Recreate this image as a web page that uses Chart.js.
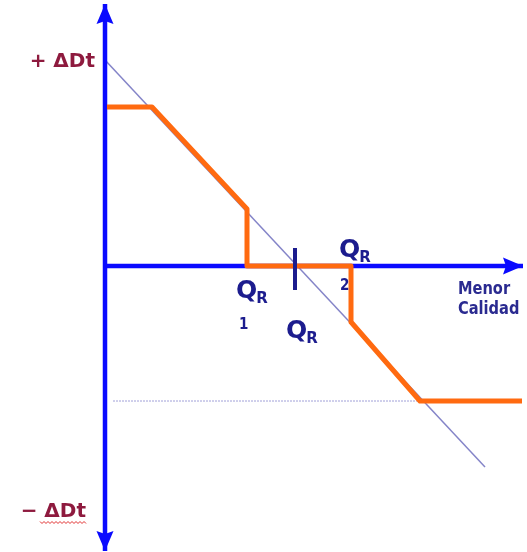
<!DOCTYPE html>
<html>
<head>
<meta charset="utf-8">
<script src="https://cdn.jsdelivr.net/npm/chart.js@4/dist/chart.umd.min.js"></script>
<style>
  body { margin: 0; background: #fff; }
  #graf { display: block; }
</style>
</head>
<body>
<canvas id="graf" width="527" height="552"></canvas>
<script>
// ejes (unidades arbitrarias, origen en el cruce)
const ejeY = [{x: 0, y: -28.5}, {x: 0, y: 26.2}];
const ejeX = [{x: 0, y: 0}, {x: 41.8, y: 0}];

// recta de referencia (linea fina)
const recta = [{x: 0, y: 20.6}, {x: 38.0, y: -20.1}];

// curva naranja
const curvaX = [0.2, 4.7, 14.2, 14.2, 24.6, 24.6, 31.5, 41.7];
const curvaY = [15.9, 15.9, 5.7, 0, 0, -5.6, -13.5, -13.5];

// linea punteada del nivel inferior
const punteada = [{x: 0.8, y: -13.5}, {x: 31.5, y: -13.5}];

// marca vertical en QR
const marca = [{x: 19.0, y: 1.8}, {x: 19.0, y: -2.4}];

// etiquetas del eje vertical
const etiquetasY = ['+ ΔDt', '− ΔDt'];
const valoresY = [20.6, -24.4];

const curva = curvaX.map((v, i) => ({x: v, y: curvaY[i]}));

const azul = '#0a0aff';
const naranja = '#ff6a10';
const marino = '#1c1c8e';
const granate = '#8e1a3e';

// texto estrechado horizontalmente
function texto(c, t, x, y, fuente, escala, alin) {
  c.save();
  c.font = fuente;
  const w = c.measureText(t).width * escala;
  const x0 = alin === 'right' ? x - w : x;
  c.translate(x0, y);
  c.scale(escala, 1);
  c.textAlign = 'left';
  c.fillText(t, 0, 0);
  c.restore();
  return w;
}

// flechas y textos
const dibujos = {
  id: 'dibujos',
  afterDatasetsDraw(chart) {
    const c = chart.ctx;
    const sx = chart.scales.x, sy = chart.scales.y;
    const px = v => sx.getPixelForValue(v);
    const py = v => sy.getPixelForValue(v);

    // puntas de flecha
    chart.data.datasets.forEach(ds => {
      if (!ds.flecha) return;
      ds.flecha.forEach(k => {
        const p = ds.data[k], q = ds.data[k === 0 ? 1 : k - 1];
        const x1 = px(p.x), y1 = py(p.y), x0 = px(q.x), y0 = py(q.y);
        const a = Math.atan2(y1 - y0, x1 - x0);
        const L = 20, W = 8.5;
        c.save();
        c.translate(x1, y1);
        c.rotate(a);
        c.fillStyle = azul;
        c.beginPath();
        c.moveTo(0, 0);
        c.lineTo(-L, -W);
        c.lineTo(-L + 3, 0);
        c.lineTo(-L, W);
        c.closePath();
        c.fill();
        c.restore();
      });
    });

    c.save();
    c.textBaseline = 'alphabetic';
    // +ΔDt / -ΔDt
    c.fillStyle = granate;
    etiquetasY.forEach((t, i) => {
      texto(c, t, px(0) - (i === 0 ? 10 : 19), py(valoresY[i]) + 7, 'bold 20px "DejaVu Sans"', 1.0, 'right');
    });
    // subrayado ondulado bajo -ΔDt
    c.strokeStyle = '#e03030';
    c.lineWidth = 1;
    c.beginPath();
    for (let x = 40, k = 0; x <= 86; x += 2, k++) {
      const y = py(valoresY[1]) + 12 + (k % 2 ? 1.5 : -0.5);
      if (k === 0) c.moveTo(x, y); else c.lineTo(x, y);
    }
    c.stroke();

    // Q_R
    c.fillStyle = marino;
    const qr = (x, yb) => {
      const w = texto(c, 'Q', x, yb, 'bold 25px "DejaVu Sans"', 1.0, 'left');
      texto(c, 'R', x + w - 1, yb + 5, 'bold 15px "DejaVu Sans"', 1.0, 'left');
    };
    qr(236, 298);
    qr(286, 338);
    qr(339, 257);
    texto(c, '1', 239, 329, 'bold 15px "DejaVu Sans"', 0.9, 'left');
    texto(c, '2', 340, 290, 'bold 15px "DejaVu Sans"', 0.9, 'left');

    // Menor Calidad
    c.fillStyle = '#2a2a90';
    texto(c, 'Menor', 458, 294, 'bold 17px "DejaVu Sans"', 0.86, 'left');
    texto(c, 'Calidad', 458, 314, 'bold 17px "DejaVu Sans"', 0.86, 'left');
    c.restore();
  }
};

// Chart.js pinta el primer dataset encima de los demas
new Chart(document.getElementById('graf'), {
  type: 'scatter',
  data: {
    datasets: [
      {data: marca, showLine: true, borderColor: marino, borderWidth: 4, pointRadius: 0},
      {data: curva, showLine: true, borderColor: naranja, borderWidth: 5, pointRadius: 0, borderJoinStyle: 'round'},
      {data: ejeX, showLine: true, borderColor: azul, borderWidth: 4.5, pointRadius: 0, flecha: [1]},
      {data: ejeY, showLine: true, borderColor: azul, borderWidth: 4.5, pointRadius: 0, flecha: [0, 1]},
      {data: recta, showLine: true, borderColor: 'rgba(110,110,190,0.85)', borderWidth: 1.5, pointRadius: 0},
      {data: punteada, showLine: true, borderColor: 'rgba(120,120,200,0.7)', borderWidth: 1, borderDash: [2, 1], pointRadius: 0}
    ]
  },
  options: {
    responsive: false,
    animation: false,
    layout: {padding: 0},
    plugins: {legend: {display: false}, tooltip: {enabled: false}},
    scales: {
      x: {type: 'linear', min: -10.5, max: 42.2, display: false},
      y: {type: 'linear', min: -28.6, max: 26.6, display: false}
    }
  },
  plugins: [dibujos]
});
</script>
</body>
</html>
